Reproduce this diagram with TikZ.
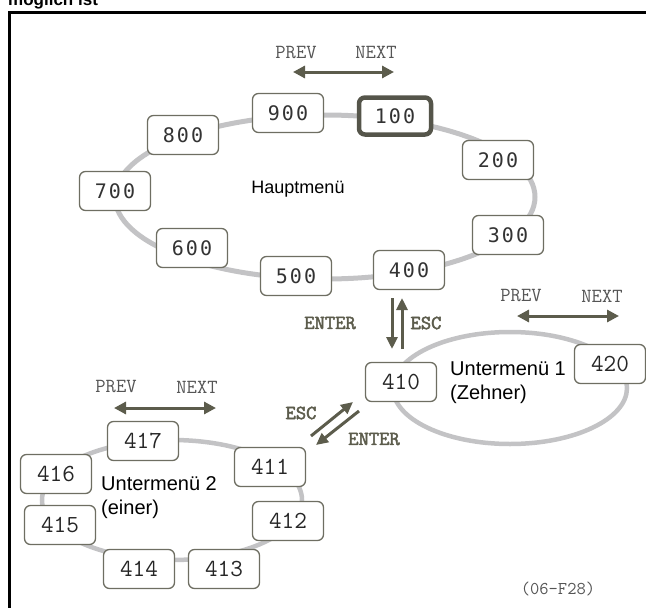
\documentclass[tikz,border=0pt]{standalone}
\usepackage{fontspec}
\setmainfont{Liberation Sans}
\newfontfamily\ringfont[LetterSpace=10]{DejaVu Sans Mono}
\newfontfamily\keyfont[FakeBold=2.5]{Latin Modern Mono}
\usetikzlibrary{arrows.meta}

\definecolor{boxline}{HTML}{6E6E62}
\definecolor{activeline}{HTML}{55554A}
\definecolor{ringgrey}{HTML}{C3C3C5}
\definecolor{arrowdark}{HTML}{5C5C4C}
\definecolor{labelgrey}{HTML}{555555}
\definecolor{digitgrey}{HTML}{333333}

\tikzset{
  menubox/.style={draw=boxline, line width=1.3pt, rounded corners=6pt, fill=white,
    minimum width=71pt, minimum height=39pt, inner sep=0pt, text=digitgrey,
    font=\ringfont\fontsize{20}{24}\selectfont},
  activebox/.style={menubox, draw=activeline, line width=4.5pt,
    minimum width=72pt, minimum height=37pt},
  subbox/.style={menubox, text=black!85, font=\ttfamily\fontsize{24.5}{28}\selectfont},
  ring/.style={draw=ringgrey, line width=5pt},
  subring/.style={draw=ringgrey, line width=4.5pt},
  navarrow/.style={draw=arrowdark, line width=3pt,
    {Triangle[length=12pt,width=12pt]}-{Triangle[length=12pt,width=12pt]}},
  keyarrow/.style={draw=arrowdark, line width=3pt,
    -{Triangle[length=12pt,width=11pt]}},
  navlabel/.style={font=\ttfamily\fontsize{20}{22}\selectfont, text=labelgrey, inner sep=0pt},
  keylabel/.style={font=\keyfont\fontsize{20}{22}\selectfont, text=arrowdark, inner sep=0pt},
  menutitle/.style={font=\fontsize{20}{24}\selectfont, align=left, inner sep=0pt, anchor=north west},
}

\begin{document}
\begin{tikzpicture}[x=1pt,y=-1pt]
\useasboundingbox (0,0) rectangle (646,608);

% heading of the page, partly cut by the upper edge
\begin{scope}
  \clip (0,0) rectangle (646,608);
  \node[anchor=base west, inner sep=0pt, font=\bfseries\fontsize{17}{20}\selectfont] (heading) at (8,5) {möglich ist};
\end{scope}

% frame
\draw[line width=3pt] (9.5,608) -- (9.5,12.5) -- (646,12.5);

% ---------------- main menu ----------------
\draw[ring] (325,197) ellipse [x radius=210pt, y radius=82pt];
\node[menubox]   (n900) at (288,113) {900};
\node[activebox] (n100) at (395,116) {100};
\node[menubox]   (n200) at (498,160) {200};
\node[menubox]   (n300) at (508,235) {300};
\node[menubox]   (n400) at (409,270) {400};
\node[menubox]   (n500) at (296,276) {500};
\node[menubox]   (n600) at (192,248) {600};
\node[menubox]   (n700) at (115,191) {700};
\node[menubox]   (n800) at (183,135) {800};
\node[inner sep=0pt, font=\fontsize{18}{22}\selectfont] (main) at (298,189) {Hauptmenü};

\node[navlabel] (mprev) at (296,52.5) {PREV};
\node[navlabel] (mnext) at (376,52.5) {NEXT};
\coordinate (ma) at (293,72);
\coordinate (mb) at (394,72);
\draw[navarrow] (ma) -- (mb);

% 400 <-> 410
\coordinate (entA) at (392,298);
\coordinate (entB) at (392,349);
\coordinate (escA) at (402,349);
\coordinate (escB) at (402,298);
\draw[keyarrow] (entA) -- (entB);
\draw[keyarrow] (escA) -- (escB);
\node[keylabel] (lent1) at (330,323) {ENTER};
\node[keylabel] (lesc1) at (426,323) {ESC};

% ---------------- submenu 1 ----------------
\draw[subring] (510,388) ellipse [x radius=117pt, y radius=56pt];
\node[subbox] (n410) at (401,382) {410};
\node[subbox] (n420) at (610,364) {420};
\node[menutitle] (sub1) at (450,362) {Untermenü 1\\(Zehner)};

\node[navlabel] (s1prev) at (521,296) {PREV};
\node[navlabel] (s1next) at (602,296) {NEXT};
\coordinate (s1a) at (517,316);
\coordinate (s1b) at (619,316);
\draw[navarrow] (s1a) -- (s1b);

% 410 <-> 411
\coordinate (escC) at (311,436);
\coordinate (escD) at (353,402);
\coordinate (entC) at (359,411);
\coordinate (entD) at (316,445);
\draw[keyarrow] (escC) -- (escD);
\draw[keyarrow] (entC) -- (entD);
\node[keylabel] (lesc2) at (301,413) {ESC};
\node[keylabel] (lent2) at (374,439) {ENTER};

% ---------------- submenu 2 ----------------
\draw[subring] (172,500) ellipse [x radius=130pt, y radius=60pt];
\node[subbox] (n417) at (143,441) {417};
\node[subbox] (n416) at (56,474) {416};
\node[subbox] (n415) at (60,525) {415};
\node[subbox] (n414) at (139,569) {414};
\node[subbox] (n413) at (224,569) {413};
\node[subbox] (n412) at (288,521) {412};
\node[subbox] (n411) at (270,467) {411};
\node[menutitle] (sub2) at (101,476.5) {Untermenü 2\\(einer)};

\node[navlabel] (s2prev) at (116,387) {PREV};
\node[navlabel] (s2next) at (197,387) {NEXT};
\coordinate (s2a) at (114,408);
\coordinate (s2b) at (216,408);
\draw[navarrow] (s2a) -- (s2b);

% figure code
\node[inner sep=0pt, text=labelgrey, font=\ttfamily\fontsize{18}{20}\selectfont] (code) at (558,589) {(06-F28)};
\end{tikzpicture}
\end{document}
